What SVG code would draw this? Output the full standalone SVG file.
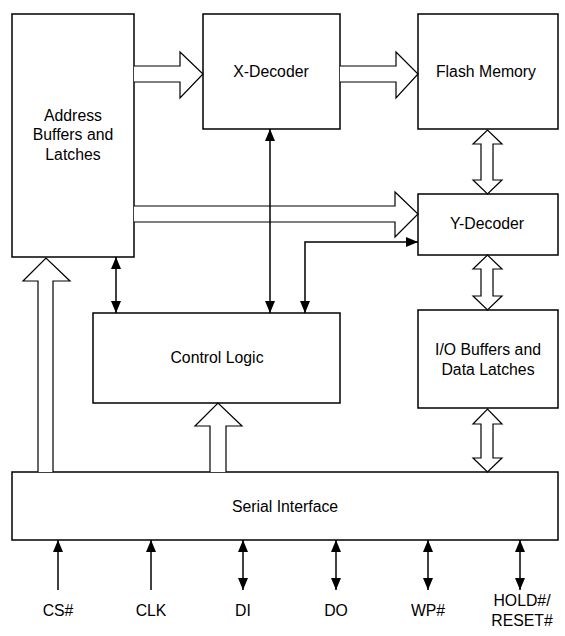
<svg xmlns="http://www.w3.org/2000/svg" width="565" height="636" viewBox="0 0 565 636">
<defs>
<style>
.box{fill:#fff;stroke:#000;stroke-width:1.5}
.lbl{font-family:"Liberation Sans",Arial,sans-serif;font-size:15.8px;fill:#000;text-anchor:middle}
.w{fill:#fff;stroke:#000;stroke-width:1.2;stroke-linejoin:miter}
.ln{fill:none;stroke:#000;stroke-width:1.5}
</style>
<marker id="ah" viewBox="0 0 12 10" refX="12" refY="5" markerWidth="12" markerHeight="10" markerUnits="userSpaceOnUse" orient="auto-start-reverse">
<path d="M0,0 L12,5 L0,10 z" fill="#000"/>
</marker>
</defs>
<rect width="565" height="636" fill="#fff"/>

<g id="address"><rect class="box" x="12" y="14" width="122" height="243"/>
<text class="lbl" x="73" y="121">Address</text><text class="lbl" x="73" y="140">Buffers and</text><text class="lbl" x="73" y="160">Latches</text></g>
<g id="xdec"><rect class="box" x="203" y="14" width="137" height="115"/><text class="lbl" x="271" y="77">X-Decoder</text></g>
<g id="flash"><rect class="box" x="418" y="14" width="140" height="115"/><text class="lbl" x="486" y="77">Flash Memory</text></g>
<g id="ydec"><rect class="box" x="418" y="194" width="140" height="61"/><text class="lbl" x="487" y="229">Y-Decoder</text></g>
<g id="io"><rect class="box" x="418" y="310" width="140" height="98"/><text class="lbl" x="488" y="355">I/O Buffers and</text><text class="lbl" x="488" y="375">Data Latches</text></g>
<g id="control"><rect class="box" x="93" y="313" width="247" height="90"/><text class="lbl" x="217" y="363">Control Logic</text></g>
<g id="serial"><rect class="box" x="12" y="472" width="546" height="68"/><text class="lbl" x="285" y="512">Serial Interface</text></g>

<g id="connectors">
<!-- hollow arrows -->
<path class="w" d="M134,66 H180 V52 L203,74 L180,98 V82 H134"/>
<path class="w" d="M340,66 H396 V52 L418,74 L396,98 V82 H340"/>
<path class="w" d="M134,206 H395 V192 L418,214 L395,237 V222 H134"/>
<path class="w" d="M38,472 V281 H23 L46,258 L70,281 H53 V472"/>
<path class="w" d="M210,472 V426 H195 L218,403 L242,426 H226 V472"/>
<path class="w" d="M481,144 H473 L487.5,130 L502,144 H493 V180 H502 L487.5,194 L473,180 H481 Z"/>
<path class="w" d="M481,269 H473 L487.5,255 L502,269 H493 V296 H502 L487.5,310 L473,296 H481 Z"/>
<path class="w" d="M481,424 H473 L487.5,409 L502,424 H493 V458 H502 L487.5,472 L473,458 H481 Z"/>
<!-- thin arrows -->
<line class="ln" x1="270" y1="129" x2="270" y2="313" marker-start="url(#ah)" marker-end="url(#ah)"/>
<line class="ln" x1="116" y1="257" x2="116" y2="313" marker-start="url(#ah)" marker-end="url(#ah)"/>
<polyline class="ln" points="305,313 305,242 418,242" marker-start="url(#ah)" marker-end="url(#ah)"/>
<!-- pins -->
<line class="ln" x1="58" y1="590" x2="58" y2="540" marker-end="url(#ah)"/>
<line class="ln" x1="151" y1="590" x2="151" y2="540" marker-end="url(#ah)"/>
<line class="ln" x1="243" y1="590" x2="243" y2="540" marker-start="url(#ah)" marker-end="url(#ah)"/>
<line class="ln" x1="336" y1="590" x2="336" y2="540" marker-start="url(#ah)" marker-end="url(#ah)"/>
<line class="ln" x1="428" y1="590" x2="428" y2="540" marker-start="url(#ah)" marker-end="url(#ah)"/>
<line class="ln" x1="520" y1="590" x2="520" y2="540" marker-start="url(#ah)" marker-end="url(#ah)"/>
</g>

<g id="pins">
<text class="lbl" x="58" y="616">CS#</text>
<text class="lbl" x="151" y="616">CLK</text>
<text class="lbl" x="243" y="616">DI</text>
<text class="lbl" x="336" y="616">DO</text>
<text class="lbl" x="428" y="616">WP#</text>
<text class="lbl" x="522" y="606">HOLD#/</text>
<text class="lbl" x="522" y="626">RESET#</text>
</g>
</svg>
